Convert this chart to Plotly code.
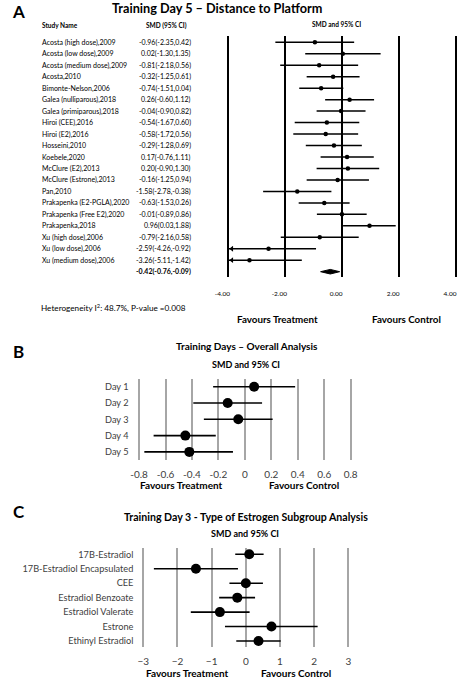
import plotly.graph_objects as go

W, H = 463, 680
FONT = "Lato"

# ---- Panel A: Training Day 5 - Distance to Platform ----
studies = [
    "Acosta (high dose),2009", "Acosta (low dose),2009", "Acosta (medium dose),2009",
    "Acosta,2010", "Bimonte-Nelson,2006", "Galea (nulliparous),2018",
    "Galea (primiparous),2018", "Hiroi (CEE),2016", "Hiroi (E2),2016",
    "Hosseini,2010", "Koebele,2020", "McClure (E2),2013", "McClure (Estrone),2013",
    "Pan,2010", "Prakapenka (E2-PGLA),2020", "Prakapenka (Free E2),2020",
    "Prakapenka,2018", "Xu (high dose),2006", "Xu (low dose),2006", "Xu (medium dose),2006",
]
smd = [-0.96, 0.02, -0.81, -0.32, -0.74, 0.26, -0.04, -0.54, -0.58, -0.29,
       0.17, 0.20, -0.16, -1.58, -0.63, -0.01, 0.96, -0.79, -2.59, -3.26]
ci_lo = [-2.35, -1.30, -2.18, -1.25, -1.51, -0.60, -0.90, -1.67, -1.72, -1.28,
         -0.76, -0.90, -1.25, -2.78, -1.53, -0.89, 0.03, -2.16, -4.26, -5.11]
ci_hi = [0.42, 1.35, 0.56, 0.61, 0.04, 1.12, 0.82, 0.60, 0.56, 0.69,
         1.11, 1.30, 0.94, -0.38, 0.26, 0.86, 1.88, 0.58, -0.92, -1.42]
pooled = (-0.42, -0.76, -0.09)
a_ticks = [-4, -2, 0, 2, 4]
a_ticktext = ["-4.00", "-2.00", "0.00", "2.00", "4.00"]
heterogeneity = "Heterogeneity I<sup>2</sup>: 48.7%, P-value =0.008"

# ---- Panel B: Training Days - Overall Analysis ----
days = ["Day 1", "Day 2", "Day 3", "Day 4", "Day 5"]
day_smd = [0.07, -0.13, -0.05, -0.45, -0.42]
day_lo = [-0.24, -0.39, -0.31, -0.69, -0.76]
day_hi = [0.38, 0.13, 0.21, -0.22, -0.09]
b_ticks = [-0.8, -0.6, -0.4, -0.2, 0, 0.2, 0.4, 0.6, 0.8]
b_ticktext = ["-0.8", "-0.6", "-0.4", "-0.2", "0", "0.2", "0.4", "0.6", "0.8"]

# ---- Panel C: Training Day 3 - Type of Estrogen ----
estrogens = ["17B-Estradiol", "17B-Estradiol Encapsulated", "CEE", "Estradiol Benzoate",
             "Estradiol Valerate", "Estrone", "Ethinyl Estradiol"]
est_smd = [0.10, -1.46, 0.00, -0.25, -0.76, 0.75, 0.37]
est_lo = [-0.31, -2.69, -0.48, -0.78, -1.61, -0.61, -0.28]
est_hi = [0.52, -0.23, 0.50, 0.27, 0.11, 2.10, 1.02]
c_ticks = [-3, -2, -1, 0, 1, 2, 3]


def px(x):
    return x / W


def py(y):
    return 1 - y / H


fig = go.Figure()

# panel A rows: horizontal CI segments, truncated at the axis limit with an arrow
amin = a_ticks[0]
for i in range(len(studies)):
    lo = max(ci_lo[i], amin)
    fig.add_trace(go.Scatter(x=[lo, ci_hi[i]], y=[i, i], mode="lines",
                             line=dict(color="black", width=1.5),
                             xaxis="x", yaxis="y", hoverinfo="skip"))
    if ci_lo[i] < amin:
        fig.add_trace(go.Scatter(x=[amin + 0.12], y=[i], mode="markers",
                                 marker=dict(symbol="triangle-left", size=5, color="black"),
                                 xaxis="x", yaxis="y", hoverinfo="skip"))
fig.add_trace(go.Scatter(x=smd, y=list(range(len(studies))), mode="markers",
                         marker=dict(symbol="circle", size=4.5, color="black"),
                         xaxis="x", yaxis="y", hoverinfo="skip"))
# pooled diamond
n = len(studies)
est, plo, phi = pooled
fig.add_trace(go.Scatter(x=[plo, est, phi, est, plo], y=[n, n - 0.2, n, n + 0.2, n],
                         mode="lines", fill="toself", fillcolor="black",
                         line=dict(color="black", width=1),
                         xaxis="x", yaxis="y", hoverinfo="skip"))

# panel B
for i in range(len(days)):
    fig.add_trace(go.Scatter(x=[day_lo[i], day_hi[i]], y=[days[i], days[i]], mode="lines",
                             line=dict(color="black", width=1.6),
                             xaxis="x2", yaxis="y2", hoverinfo="skip"))
fig.add_trace(go.Scatter(x=day_smd, y=days, mode="markers",
                         marker=dict(size=10, color="black"),
                         xaxis="x2", yaxis="y2", hoverinfo="skip"))

# panel C
for i in range(len(estrogens)):
    fig.add_trace(go.Scatter(x=[est_lo[i], est_hi[i]], y=[estrogens[i], estrogens[i]],
                             mode="lines", line=dict(color="black", width=1.6),
                             xaxis="x3", yaxis="y3", hoverinfo="skip"))
fig.add_trace(go.Scatter(x=est_smd, y=estrogens, mode="markers",
                         marker=dict(size=10, color="black"),
                         xaxis="x3", yaxis="y3", hoverinfo="skip"))

ann = []


def text(x, y, s, size, bold=False, xanchor="center", xref="paper", yref="paper"):
    if bold:
        s = "<b>" + s + "</b>"
    ann.append(dict(x=x, y=y, xref=xref, yref=yref, text=s, showarrow=False,
                    xanchor=xanchor, yanchor="middle",
                    font=dict(family=FONT, size=size, color="black")))


# panel A texts
text(px(7.5), py(11), "A", 17, True)
text(px(212.7), py(8.5), "Training Day 5 – Distance to Platform", 12.7, True)
text(px(30), py(25.3), "Study Name", 6.5, True, "left")
text(px(161), py(25.3), "SMD (95% CI)", 6.5, True)
text(px(336.7), py(25), "SMD and 95% CI", 6.5, True)
for i, s in enumerate(studies):
    text(px(30), i, s, 7, False, "left", yref="y")
    text(px(188.5), i, f"{smd[i]:.2f}({ci_lo[i]:.2f},{ci_hi[i]:.2f})", 7, False, "right", yref="y")
text(px(188.5), n, f"{est:.2f}({plo:.2f},{phi:.2f})", 7, True, "right", yref="y")
text(px(29), py(307.7), heterogeneity, 8.2, False, "left")
text(px(275), py(318.7), "Favours Treatment", 9.8, True)
text(px(408.7), py(318.7), "Favours Control", 9.8, True)

# panel B texts
text(px(8), py(351), "B", 17, True)
text(px(244.3), py(346), "Training Days – Overall Analysis", 10, True)
text(px(243), py(364), "SMD and 95% CI", 9, True)
text(px(176.7), py(485), "Favours Treatment", 10, True)
text(px(302.7), py(485), "Favours Control", 10, True)

# panel C texts
text(px(8), py(511), "C", 17, True)
text(px(242.7), py(517), "Training Day 3 - Type of Estrogen Subgroup Analysis", 10.6, True)
text(px(241.7), py(533), "SMD and 95% CI", 9, True)
text(px(182.7), py(672.7), "Favours Treatment", 10, True)
text(px(295), py(672.7), "Favours Control", 10, True)

# axis geometry (pixel positions)
a_unit, a_x0 = 29.4, 342.3
b_unit, b_x0 = 136.7, 241.7
c_unit, c_x0 = 35.33, 242.7

a_row0, a_step = 42.3, 11.47
b_row0, b_step = 386.7, 16.3
c_row0, c_step = 554.3, 14.45

a_top, a_bot = 36, 277
b_top, b_bot = 379, 460
c_top, c_bot = 548, 647


def xdom(x0, unit, lo, hi):
    return [px(x0 + lo * unit), px(x0 + hi * unit)]


tick_font = dict(family=FONT, size=10, color="#404040")
cat_font = dict(family=FONT, size=9.2, color="#404040")

fig.update_layout(
    width=W, height=H,
    margin=dict(l=0, r=0, t=0, b=0),
    paper_bgcolor="white", plot_bgcolor="white",
    showlegend=False,
    font=dict(family=FONT, color="black"),
    annotations=ann,
    xaxis=dict(domain=xdom(a_x0, a_unit, -4.08, 4.08), range=[-4.08, 4.08],
               tickvals=a_ticks, ticktext=a_ticktext, showgrid=True,
               gridcolor="black", gridwidth=2, zeroline=False, showline=False,
               ticks="outside", ticklen=10, tickcolor="rgba(0,0,0,0)",
               ticklabelshift=-6,
               tickfont=dict(family=FONT, size=6.5, color="black"), anchor="y"),
    yaxis=dict(domain=[py(a_bot), py(a_top)],
               range=[(a_bot - a_row0) / a_step, (a_top - a_row0) / a_step],
               showgrid=False, zeroline=False, showticklabels=False, anchor="x"),
    xaxis2=dict(domain=xdom(b_x0, b_unit, -0.82, 0.82), range=[-0.82, 0.82],
                tickvals=b_ticks, ticktext=b_ticktext,
                showgrid=True, gridcolor="#a6a6a6", gridwidth=1.5, zeroline=False,
                ticks="outside", ticklen=5, tickcolor="rgba(0,0,0,0)",
                tickfont=tick_font, anchor="y2"),
    yaxis2=dict(domain=[py(b_bot), py(b_top)], type="category",
                range=[(b_bot - b_row0) / b_step, (b_top - b_row0) / b_step],
                showgrid=False, zeroline=False, ticks="outside", ticklen=5,
                tickcolor="rgba(0,0,0,0)", tickfont=cat_font, anchor="x2"),
    xaxis3=dict(domain=xdom(c_x0, c_unit, -3.06, 3.06), range=[-3.06, 3.06],
                tickvals=c_ticks, showgrid=True, gridcolor="#a6a6a6", gridwidth=1.5,
                zeroline=False, ticks="outside", ticklen=5, tickcolor="rgba(0,0,0,0)",
                tickfont=tick_font, anchor="y3"),
    yaxis3=dict(domain=[py(c_bot), py(c_top)], type="category",
                range=[(c_bot - c_row0) / c_step, (c_top - c_row0) / c_step],
                showgrid=False, zeroline=False, ticks="outside", ticklen=5,
                tickcolor="rgba(0,0,0,0)", tickfont=cat_font, anchor="x3"),
)

# the page's default body margin would push the figure 8px off the window
fig.write_html("out.html", config={"displayModeBar": False},
               post_script="document.body.style.margin='0';")
